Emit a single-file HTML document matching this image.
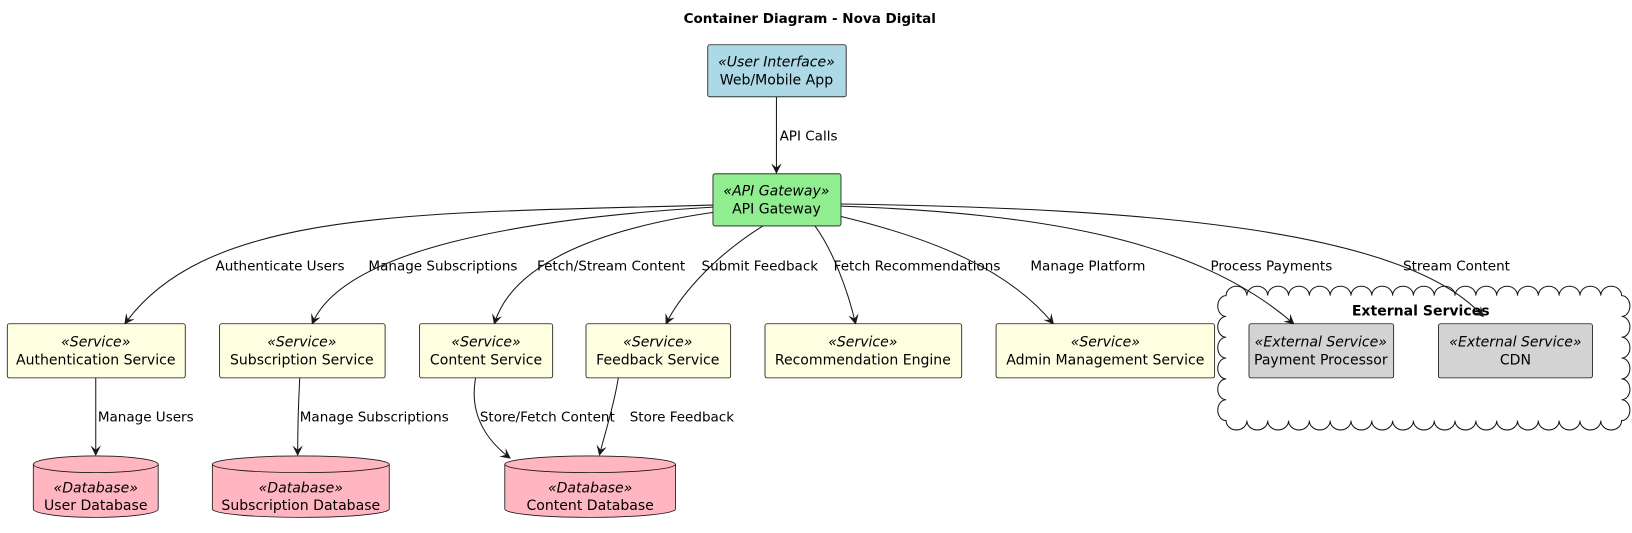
<!DOCTYPE html>
<html><head><meta charset="utf-8"><style>html,body{margin:0;padding:0;background:#fff;width:1632px;height:533px;overflow:hidden}svg{display:block}text{font-family:"DejaVu Sans","Liberation Sans",sans-serif;fill:#000}</style></head>
<body>
<svg width="1632" height="533" viewBox="0 0 1568 512" preserveAspectRatio="none" xmlns="http://www.w3.org/2000/svg">
<defs><marker id="a" viewBox="0 0 10 10" refX="9" refY="5" markerWidth="10" markerHeight="10" orient="auto" markerUnits="userSpaceOnUse"><path d="M0,0 L10,5 L0,10 L4,5 z" fill="#181818"/></marker></defs>
<text x="778" y="22" font-size="13" font-weight="bold" text-anchor="middle">Container Diagram - Nova Digital</text>

<path d="M1178,284 a10,9 0 0,1 20,0 a10,9 0 0,1 20,0 a10,9 0 0,1 20,0 a10,9 0 0,1 20,0 a10,9 0 0,1 20,0 a10,9 0 0,1 20,0 a10,9 0 0,1 20,0 a10,9 0 0,1 20,0 a10,9 0 0,1 20,0 a10,9 0 0,1 20,0 a10,9 0 0,1 20,0 a10,9 0 0,1 20,0 a10,9 0 0,1 20,0 a10,9 0 0,1 20,0 a10,9 0 0,1 20,0 a10,9 0 0,1 20,0 a10,9 0 0,1 20,0 a10,9 0 0,1 20,0 a10,9 0 0,1 20,0 a8,10 0 0,1 0,20 a8,10 0 0,1 0,20 a8,10 0 0,1 0,20 a8,10 0 0,1 0,20 a8,10 0 0,1 0,20 a8,10 0 0,1 0,20 a10,9 0 0,1 -20,0 a10,9 0 0,1 -20,0 a10,9 0 0,1 -20,0 a10,9 0 0,1 -20,0 a10,9 0 0,1 -20,0 a10,9 0 0,1 -20,0 a10,9 0 0,1 -20,0 a10,9 0 0,1 -20,0 a10,9 0 0,1 -20,0 a10,9 0 0,1 -20,0 a10,9 0 0,1 -20,0 a10,9 0 0,1 -20,0 a10,9 0 0,1 -20,0 a10,9 0 0,1 -20,0 a10,9 0 0,1 -20,0 a10,9 0 0,1 -20,0 a10,9 0 0,1 -20,0 a10,9 0 0,1 -20,0 a10,9 0 0,1 -20,0 a8,10 0 0,1 0,-20 a8,10 0 0,1 0,-20 a8,10 0 0,1 0,-20 a8,10 0 0,1 0,-20 a8,10 0 0,1 0,-20 a8,10 0 0,1 0,-20 z" fill="#fff" stroke="#181818" stroke-width="1"/>
<text x="1365" y="303" font-size="13.5" font-weight="bold" text-anchor="middle">External Services</text>

<g stroke="#181818" stroke-width="1" fill="none" marker-end="url(#a)">
<path d="M746,93 L746,166"/>
<path d="M685,197 C400,205 200,200 120,311"/>
<path d="M685,199 C500,210 330,240 300,311"/>
<path d="M700,202 C560,220 490,260 475,311"/>
<path d="M733,217 C680,250 650,290 640,311"/>
<path d="M783,217 C800,240 815,280 822,311"/>
<path d="M808,208 C900,230 970,260 1012,311"/>
<path d="M808,198 C1000,205 1150,230 1243,311"/>
<path d="M808,196 C1100,200 1350,220 1425,304"/>
<path d="M92,363 L92,437"/>
<path d="M288,363 C286,400 286,420 286,437"/>
<path d="M457,363 C450,400 470,425 490,440"/>
<path d="M594,363 C590,390 580,420 576,437"/>
</g>

<g font-size="13">
<text x="749" y="135">API Calls</text>
<text x="207" y="260">Authenticate Users</text>
<text x="354" y="260">Manage Subscriptions</text>
<text x="516" y="260">Fetch/Stream Content</text>
<text x="674" y="260">Submit Feedback</text>
<text x="801" y="260">Fetch Recommendations</text>
<text x="990" y="260">Manage Platform</text>
<text x="1163" y="260">Process Payments</text>
<text x="1348" y="260">Stream Content</text>
<text x="94" y="405">Manage Users</text>
<text x="288" y="405">Manage Subscriptions</text>
<text x="461" y="405">Store/Fetch Content</text>
<text x="605" y="405">Store Feedback</text>
</g>

<g stroke="#181818" stroke-width="0.8">
<rect x="680" y="43" width="133" height="50" rx="2" fill="#ADD8E6"/>
<rect x="685" y="167" width="123" height="50" rx="2" fill="#90EE90"/>
<rect x="7" y="311" width="171" height="52" rx="2" fill="#FEFEE0"/>
<rect x="211" y="311" width="159" height="52" rx="2" fill="#FEFEE0"/>
<rect x="403" y="311" width="128" height="52" rx="2" fill="#FEFEE0"/>
<rect x="563" y="311" width="139" height="52" rx="2" fill="#FEFEE0"/>
<rect x="735" y="311" width="189" height="52" rx="2" fill="#FEFEE0"/>
<rect x="957" y="311" width="210" height="52" rx="2" fill="#FEFEE0"/>
<rect x="1200" y="311" width="139" height="52" rx="2" fill="#D3D3D3"/>
<rect x="1382" y="311" width="148" height="52" rx="2" fill="#D3D3D3"/>
<path d="M32,446 L32,489 A60,8 0 0,0 152,489 L152,446" fill="#FFB6C1"/>
<ellipse cx="92" cy="446" rx="60" ry="8" fill="#FFB6C1"/>
<path d="M204,446 L204,489 A85,8 0 0,0 374,489 L374,446" fill="#FFB6C1"/>
<ellipse cx="289" cy="446" rx="85" ry="8" fill="#FFB6C1"/>
<path d="M485,446 L485,489 A82,8 0 0,0 649,489 L649,446" fill="#FFB6C1"/>
<ellipse cx="567" cy="446" rx="82" ry="8" fill="#FFB6C1"/>
</g>

<g font-size="13.5" text-anchor="middle">
<text x="746" y="64" font-style="italic">«User Interface»</text><text x="746" y="81">Web/Mobile App</text>
<text x="746" y="188" font-style="italic">«API Gateway»</text><text x="746" y="205">API Gateway</text>
<text x="92" y="333" font-style="italic">«Service»</text><text x="92" y="350">Authentication Service</text>
<text x="290" y="333" font-style="italic">«Service»</text><text x="290" y="350">Subscription Service</text>
<text x="467" y="333" font-style="italic">«Service»</text><text x="467" y="350">Content Service</text>
<text x="632" y="333" font-style="italic">«Service»</text><text x="632" y="350">Feedback Service</text>
<text x="829" y="333" font-style="italic">«Service»</text><text x="829" y="350">Recommendation Engine</text>
<text x="1062" y="333" font-style="italic">«Service»</text><text x="1062" y="350">Admin Management Service</text>
<text x="1269" y="333" font-style="italic">«External Service»</text><text x="1269" y="350">Payment Processor</text>
<text x="1456" y="333" font-style="italic">«External Service»</text><text x="1456" y="350">CDN</text>
<text x="92" y="473" font-style="italic">«Database»</text><text x="92" y="490">User Database</text>
<text x="289" y="473" font-style="italic">«Database»</text><text x="289" y="490">Subscription Database</text>
<text x="567" y="473" font-style="italic">«Database»</text><text x="567" y="490">Content Database</text>
</g>
</svg>
</body></html>
